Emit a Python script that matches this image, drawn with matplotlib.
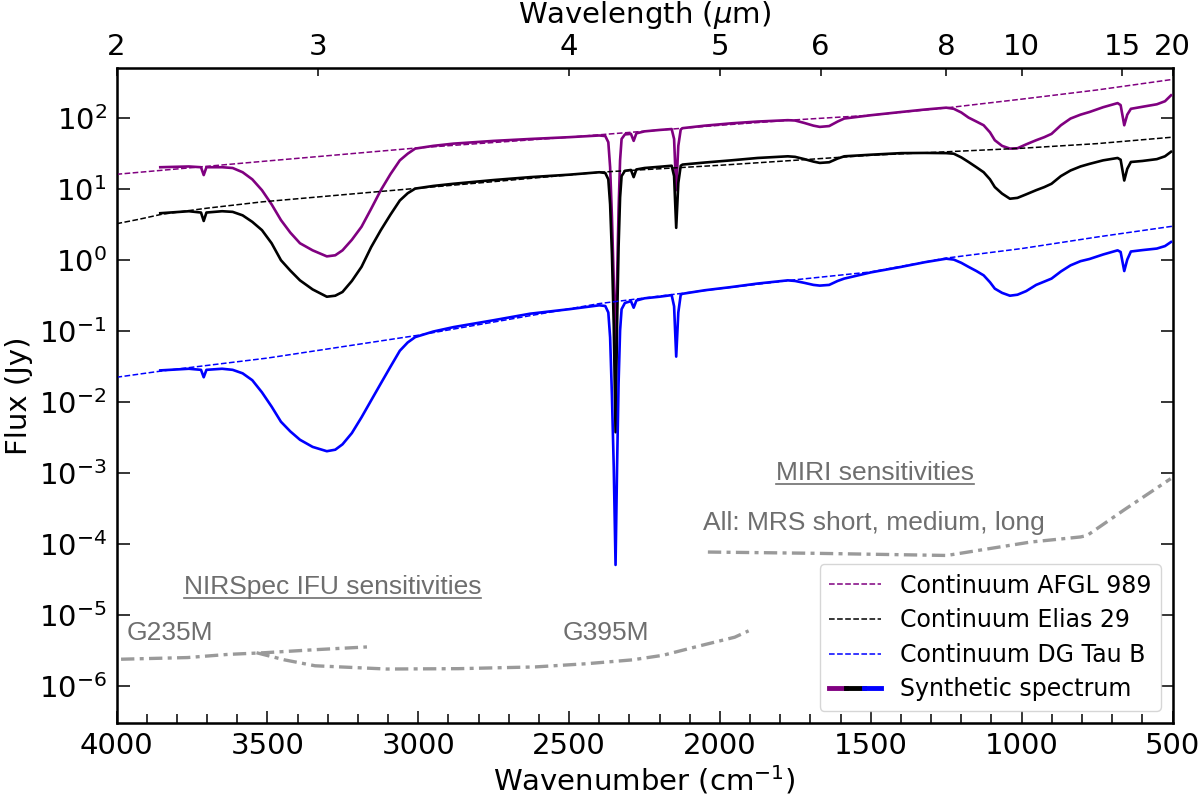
import matplotlib
matplotlib.use("Agg")
import matplotlib.pyplot as plt
import numpy as np
from matplotlib.lines import Line2D
from matplotlib.legend_handler import HandlerTuple
from matplotlib.ticker import FixedLocator, MultipleLocator, NullLocator

# --- Synthetic spectra (wavenumber in cm^-1, flux in Jy) ---
wn_spec = [3855, 3760, 3720, 3711, 3702, 3650, 3615, 3582, 3550, 3518, 3486, 3455,
           3424, 3392, 3350, 3303, 3275, 3251, 3220, 3188, 3156, 3124, 3092, 3061,
           3035, 3010, 2950, 2883, 2750, 2629, 2500, 2400, 2380, 2370, 2364, 2358,
           2352, 2346, 2341, 2336, 2331, 2326, 2315, 2295, 2286, 2277, 2250, 2200,
           2160, 2152, 2145, 2138, 2130, 2124, 2050, 1963, 1875, 1775, 1751, 1720,
           1690, 1669, 1638, 1610, 1588, 1500, 1399, 1320, 1250, 1225, 1200, 1176,
           1150, 1126, 1105, 1089, 1065, 1039, 1014, 985, 952, 925, 901, 870, 838,
           805, 775, 730, 682, 672, 660, 650, 638, 600, 552, 525, 505]

flux_afgl = [20, 20.5, 20, 15.5, 20, 20, 19.5, 17, 13.5, 9.5, 6, 3.6,
             2.4, 1.7, 1.35, 1.11, 1.15, 1.35, 1.9, 2.9, 5.2, 9.5, 16, 25,
             31, 36.6, 40, 43, 47, 50, 53, 56, 55, 45, 20, 4,
             0.5, 0.05, 0.5, 5, 25, 50, 58, 59, 47, 60, 64, 67,
             69, 50, 9.5, 40, 68, 71, 77, 83, 88, 92, 91, 84,
             77, 74, 76, 88, 97, 108, 120, 130, 138, 133, 118, 100,
             88, 78, 62, 48, 40, 36.6, 37, 42, 48, 53, 59, 78, 97,
             110, 120, 140, 160, 150, 78, 110, 133, 142, 154, 170, 206]

flux_elias = [4.5, 4.8, 4.6, 3.5, 4.6, 4.8, 4.7, 4.2, 3.4, 2.6, 1.7, 0.98,
              0.7, 0.51, 0.38, 0.30, 0.31, 0.35, 0.5, 0.79, 1.5, 2.6, 4.3, 6.8,
              8.6, 10, 10.9, 11.7, 13.2, 14.5, 15.7, 17, 16.6, 13.5, 6, 1.2,
              0.12, 0.0037, 0.12, 1.5, 7.5, 15, 17.8, 18.3, 14.5, 18.6, 19.5, 20.3,
              21, 15, 2.8, 12, 21, 21.8, 23.3, 25, 27, 28.5, 28, 26,
              24, 23, 23.5, 26.5, 28.5, 30, 31.6, 31.8, 31.6, 31, 27.5, 23.7,
              20, 17, 13.5, 10.5, 8.5, 7.2, 7.4, 8.3, 9.5, 10.5, 11.7, 15, 18,
              20.5, 22.3, 25, 27, 25.5, 13, 19, 23.7, 24.5, 26, 28.5, 33]

flux_dgtau = [0.0275, 0.029, 0.028, 0.022, 0.028, 0.029, 0.028, 0.025, 0.02, 0.0135, 0.0085, 0.0052,
              0.0038, 0.0029, 0.0023, 0.002, 0.0021, 0.0025, 0.0036, 0.006, 0.0104, 0.018, 0.031, 0.052,
              0.068, 0.081, 0.097, 0.112, 0.14, 0.173, 0.2, 0.227, 0.222, 0.18, 0.08, 0.012,
              0.0012, 0.00005, 0.0012, 0.018, 0.1, 0.2, 0.245, 0.26, 0.21, 0.265, 0.285, 0.3,
              0.316, 0.22, 0.043, 0.18, 0.32, 0.33, 0.37, 0.41, 0.46, 0.51, 0.5, 0.47,
              0.44, 0.43, 0.44, 0.5, 0.54, 0.66, 0.79, 0.92, 1.03, 1.0, 0.9, 0.79,
              0.69, 0.6, 0.48, 0.39, 0.34, 0.31, 0.32, 0.36, 0.44, 0.49, 0.54, 0.68, 0.83,
              0.95, 1.02, 1.18, 1.35, 1.28, 0.69, 1.0, 1.3, 1.36, 1.43, 1.55, 1.77]

# --- Continua ---
wn_cont_afgl = [4000, 3500, 3000, 2500, 2000, 1750, 1500, 1250, 1000, 750, 500]
cont_afgl = [15.9, 24.5, 37.5, 53, 78, 93, 108, 137, 182, 245, 345]

wn_cont_elias = [4000, 3925, 3850, 3700, 3518, 3140, 2800, 2400, 2000, 1500, 1250, 1000, 750, 500]
cont_elias = [3.2, 3.7, 4.35, 5.3, 6.5, 9.0, 12, 17, 21.3, 29.5, 33, 37, 43, 53]

wn_cont_dgtau = [4000, 3850, 3500, 3000, 2400, 2000, 1750, 1500, 1250, 1000, 750, 500]
cont_dgtau = [0.022, 0.027, 0.041, 0.086, 0.24, 0.39, 0.52, 0.67, 1.05, 1.43, 2.08, 2.95]

# --- Instrument sensitivities ---
wn_g235m = [3985, 3765, 3629, 3511, 3342, 3170]
sens_g235m = [2.35e-6, 2.48e-6, 2.75e-6, 2.9e-6, 3.2e-6, 3.5e-6]

wn_g395m = [3536, 3443, 3342, 3104, 2867, 2613, 2443, 2291, 2189, 2070, 1951, 1905]
sens_g395m = [2.9e-6, 2.3e-6, 1.9e-6, 1.71e-6, 1.73e-6, 1.83e-6, 2.03e-6, 2.3e-6,
              2.67e-6, 3.6e-6, 4.8e-6, 5.9e-6]

wn_miri = [2040, 1691, 1248, 1137, 971, 805, 783, 662, 506]
sens_miri = [7.6e-5, 7.3e-5, 6.8e-5, 8.1e-5, 1.05e-4, 1.24e-4, 1.3e-4, 2.95e-4, 8.2e-4]

# --- Top axis (wavelength labels) ---
top_tick_wn = [4000, 10000 / 3, 2500, 2000, 10000 / 6, 1250, 1000, 10000 / 15, 500]
top_tick_labels = ["2", "3", "4", "5", "6", "8", "10", "15", "20"]

PURPLE = "purple"
BLUE = "blue"
SENS = "#9a9a9a"
NOTE = "#6e6e6e"
FS = 21

plt.rcParams["font.family"] = "DejaVu Sans"
plt.rcParams["mathtext.fontset"] = "dejavusans"

fig = plt.figure(figsize=(12, 7.96), dpi=100)
ax = fig.add_axes([0.0971, 0.0921, 0.88, 0.8225])

# --- spectra ---
ax.plot(wn_spec, flux_afgl, color=PURPLE, lw=1.9, zorder=3)
ax.plot(wn_spec, flux_elias, color="black", lw=1.9, zorder=3)
ax.plot(wn_spec, flux_dgtau, color=BLUE, lw=1.9, zorder=3)

# --- continua ---
c1, = ax.plot(wn_cont_afgl, cont_afgl, "--", color=PURPLE, lw=1.1, zorder=4)
c2, = ax.plot(wn_cont_elias, cont_elias, "--", color="black", lw=1.1, zorder=4)
c3, = ax.plot(wn_cont_dgtau, cont_dgtau, "--", color=BLUE, lw=1.1, zorder=4)

# --- sensitivities ---
dashdot = (0, (4, 1.6, 1.2, 1.6))
ax.plot(wn_g235m, sens_g235m, color=SENS, lw=2.4, ls=dashdot)
ax.plot(wn_g395m, sens_g395m, color=SENS, lw=2.4, ls=dashdot)
ax.plot(wn_miri, sens_miri, color=SENS, lw=2.4, ls=dashdot)

ax.set_yscale("log")
ax.set_xlim(4000, 500)
ax.set_ylim(3e-7, 5e2)

ax.xaxis.set_major_locator(MultipleLocator(500))
ax.xaxis.set_minor_locator(MultipleLocator(100))
ax.yaxis.set_major_locator(FixedLocator([1e-6, 1e-5, 1e-4, 1e-3, 1e-2, 1e-1, 1, 10, 100]))
ax.yaxis.set_minor_locator(NullLocator())
ax.tick_params(axis="both", which="both", direction="in", labelsize=FS, width=1.1)
ax.tick_params(axis="x", which="major", length=9, pad=7, top=False)
ax.tick_params(axis="x", which="minor", length=6.5, top=False)
ax.tick_params(axis="y", which="major", length=9, right=True, pad=7)
for sp in ax.spines.values():
    sp.set_linewidth(1.8)

ax.set_xlabel(r"Wavenumber (cm$^{-1}$)", fontsize=FS, labelpad=2)
ax.set_ylabel("Flux (Jy)", fontsize=FS, labelpad=4)

# --- top axis ---
ax2 = ax.twiny()
ax2.set_xlim(ax.get_xlim())
ax2.xaxis.set_major_locator(FixedLocator(top_tick_wn))
ax2.set_xticklabels(top_tick_labels)
ax2.xaxis.set_minor_locator(NullLocator())
ax2.tick_params(axis="x", direction="in", length=6, width=1.1, labelsize=FS, pad=5)
ax2.set_xlabel(r"Wavelength ($\mu$m)", fontsize=FS, labelpad=7)

# --- annotations ---
note_font = dict(family="Liberation Sans", fontsize=19, color=NOTE)
t_nir = ax.text(3777, 1.98e-5, "NIRSpec IFU sensitivities", va="baseline", **note_font)
ax.text(3968, 4.45e-6, "G235M", va="baseline", **note_font)
ax.text(2523, 4.45e-6, "G395M", va="baseline", **note_font)
t_miri = ax.text(1813, 7.8e-4, "MIRI sensitivities", va="baseline", **note_font)
ax.text(2056, 1.57e-4, "All: MRS short, medium, long", va="baseline", **note_font)

# --- legend ---
s1 = Line2D([], [], color=PURPLE, lw=3.5)
s2 = Line2D([], [], color="black", lw=3.5)
s3 = Line2D([], [], color=BLUE, lw=3.5)
ax.legend([c1, c2, c3, (s1, s2, s3)],
          ["Continuum AFGL 989", "Continuum Elias 29", "Continuum DG Tau B", "Synthetic spectrum"],
          handler_map={tuple: HandlerTuple(ndivide=None, pad=0)},
          loc="lower right", fontsize=17, handlelength=2.2, labelspacing=0.45)

# --- underline the two headings ---
fig.canvas.draw()
inv = fig.transFigure.inverted()
for t in (t_nir, t_miri):
    bb = t.get_window_extent()
    yb = ax.transData.transform(t.get_position())[1] - 4
    (fx0, fy), (fx1, _) = inv.transform([(bb.x0, yb), (bb.x1, yb)])
    fig.add_artist(Line2D([fx0, fx1], [fy, fy], color=NOTE, lw=1.2))

fig.savefig("out.png", dpi=100)
